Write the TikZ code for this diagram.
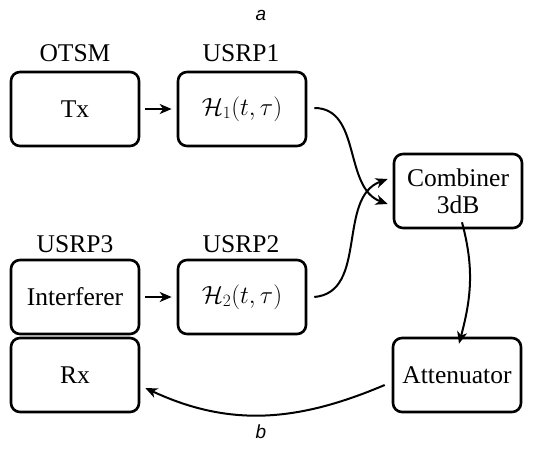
\documentclass[tikz,border=0pt]{standalone}
\usepackage{fontspec}
\setmainfont{Liberation Serif}
\newfontfamily\capfont{Liberation Sans}
\usetikzlibrary{arrows.meta}
\begin{document}
\begin{tikzpicture}[x=1pt,y=-1pt,
  blk/.style={draw,line width=2.6pt,rounded corners=9pt,minimum width=128pt,minimum height=74pt,align=center,font=\fontsize{25.5}{29}\selectfont,inner sep=0pt},
  lbl/.style={font=\fontsize{25.5}{29}\selectfont},
  captext/.style={font=\capfont\itshape\fontsize{19}{22}\selectfont},
  conn/.style={line width=2pt,-{Stealth[length=12pt,width=10pt,inset=3.5pt]}}]
\useasboundingbox (0,0) rectangle (533,457);
\node[captext] (capa) at (261,15) {a};
\node[captext] (capb) at (261,432) {b};
\node[blk] (tx) at (75,109) {Tx};
\node[blk] (h1) at (242,109) {$\mathcal{H}_1(t,\tau)$};
\node[blk] (int) at (75,297) {Interferer};
\node[blk] (h2) at (242,297) {$\mathcal{H}_2(t,\tau)$};
\node[blk] (rx) at (75,375) {Rx};
\node[blk] (comb) at (458,191) {Combiner\\[-2pt]3dB};
\node[blk] (att) at (457,375) {Attenuator};
\node[lbl] (l1) at (75,53) {OTSM};
\node[lbl] (l2) at (241,53) {USRP1};
\node[lbl] (l3) at (75,244) {USRP3};
\node[lbl] (l4) at (241,244) {USRP2};
\draw[conn] ([xshift=5pt]tx.east) -- ([xshift=-5pt]h1.west);
\draw[conn] ([xshift=5pt]int.east) -- ([xshift=-5pt]h2.west);
\draw[conn] ([xshift=7pt,yshift=1pt]h1.east) to[out=0,in=160] ([xshift=-5pt,yshift=-13pt]comb.west);
\draw[conn] ([xshift=7pt]h2.east) to[out=5,in=200] ([xshift=-5pt,yshift=12pt]comb.west);
\draw[conn] ([xshift=4pt,yshift=7pt]comb.south) to[out=-75,in=75] ([xshift=2pt,yshift=-7pt]att.north);
\draw[conn] ([xshift=-7pt,yshift=-10pt]att.west) to[out=203,in=-25] ([xshift=5pt,yshift=-13pt]rx.east);
\end{tikzpicture}
\end{document}
